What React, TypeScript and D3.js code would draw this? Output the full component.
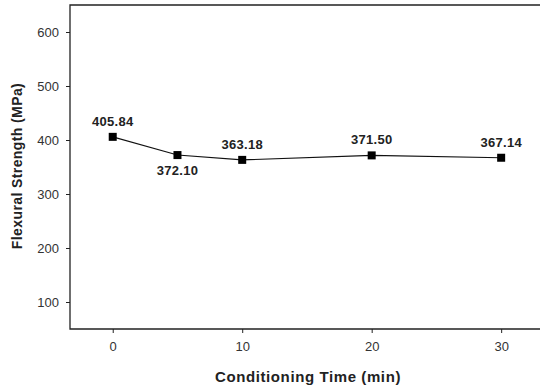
import * as d3 from 'd3';
import {useEffect, useRef} from 'react';

const times = [0, 5, 10, 20, 30];
const strength = [405.84, 372.1, 363.18, 371.5, 367.14];
const labelBelow = [false, true, false, false, false];
const xTicks = [0, 10, 20, 30];
const yTicks = [100, 200, 300, 400, 500, 600];

const App = () => {
    const ref = useRef(null);
    const width = 541;
    const height = 389;

    const margins = {top: 5, right: 1, bottom: 60, left: 70};

    useEffect(() => {
        const svg = d3.select(ref.current);
        svg.selectAll('*').remove();

        const xScale = d3
            .scaleLinear()
            .domain([-3.3, 33])
            .range([margins.left, width - margins.right]);

        const yScale = d3
            .scaleLinear()
            .domain([50, 650])
            .range([height - margins.bottom, margins.top]);

        const font = 'Liberation Sans, Arial, sans-serif';

        // frame: left, top, bottom
        const x0 = margins.left;
        const x1 = width - margins.right;
        const y0 = margins.top;
        const y1 = height - margins.bottom;
        svg.append('path')
            .attr('d', `M${x1},${y0}H${x0}V${y1}H${x1}`)
            .attr('fill', 'none')
            .attr('stroke', '#222')
            .attr('stroke-width', 1.3);

        const xAxis = d3.axisBottom(xScale).tickValues(xTicks).tickSize(4).tickPadding(9);
        const gx = svg.append('g').attr('transform', `translate(0, ${y1})`).call(xAxis);
        gx.select('.domain').remove();
        gx.selectAll('line').attr('stroke', '#222');
        gx.selectAll('text')
            .attr('font-family', font)
            .attr('font-size', 13)
            .attr('fill', '#333');

        const yAxis = d3.axisLeft(yScale).tickValues(yTicks).tickSize(4).tickPadding(7);
        const gy = svg.append('g').attr('transform', `translate(${x0}, 0)`).call(yAxis);
        gy.select('.domain').remove();
        gy.selectAll('line').attr('stroke', '#222');
        gy.selectAll('text')
            .attr('font-family', font)
            .attr('font-size', 13)
            .attr('fill', '#333');

        const line = d3
            .line<number>()
            .x((_, i) => xScale(times[i]))
            .y((d) => yScale(d));

        svg.append('path')
            .datum(strength)
            .attr('d', line)
            .attr('fill', 'none')
            .attr('stroke', '#111')
            .attr('stroke-width', 1.1);

        svg.selectAll('.pt')
            .data(strength)
            .join('rect')
            .attr('x', (_, i) => xScale(times[i]) - 4)
            .attr('y', (d) => yScale(d) - 4)
            .attr('width', 8)
            .attr('height', 8)
            .attr('fill', '#000');

        svg.selectAll('.lbl')
            .data(strength)
            .join('text')
            .attr('x', (_, i) => xScale(times[i]))
            .attr('y', (d, i) => yScale(d) + (labelBelow[i] ? 20 : -11))
            .attr('text-anchor', 'middle')
            .attr('font-family', font)
            .attr('font-size', 13)
            .attr('font-weight', 'bold')
            .attr('letter-spacing', 0.3)
            .attr('fill', '#222')
            .text((d) => d.toFixed(2));

        svg.append('text')
            .attr('x', 308)
            .attr('y', 382)
            .attr('text-anchor', 'middle')
            .attr('font-family', font)
            .attr('font-size', 15)
            .attr('font-weight', 'bold')
            .attr('letter-spacing', 0.6)
            .attr('fill', '#222')
            .text('Conditioning Time (min)');

        svg.append('text')
            .attr('transform', `translate(22, 166) rotate(-90)`)
            .attr('text-anchor', 'middle')
            .attr('font-family', font)
            .attr('font-size', 14)
            .attr('font-weight', 'bold')
            .attr('letter-spacing', 0.4)
            .attr('fill', '#222')
            .text('Flexural Strength (MPa)');
    }, []);

    return (
        <svg
            ref={ref}
            width={width}
            height={height}
            style={{position: 'absolute', left: 0, top: 0, background: '#fff'}}
        ></svg>
    );
};

export default App;
